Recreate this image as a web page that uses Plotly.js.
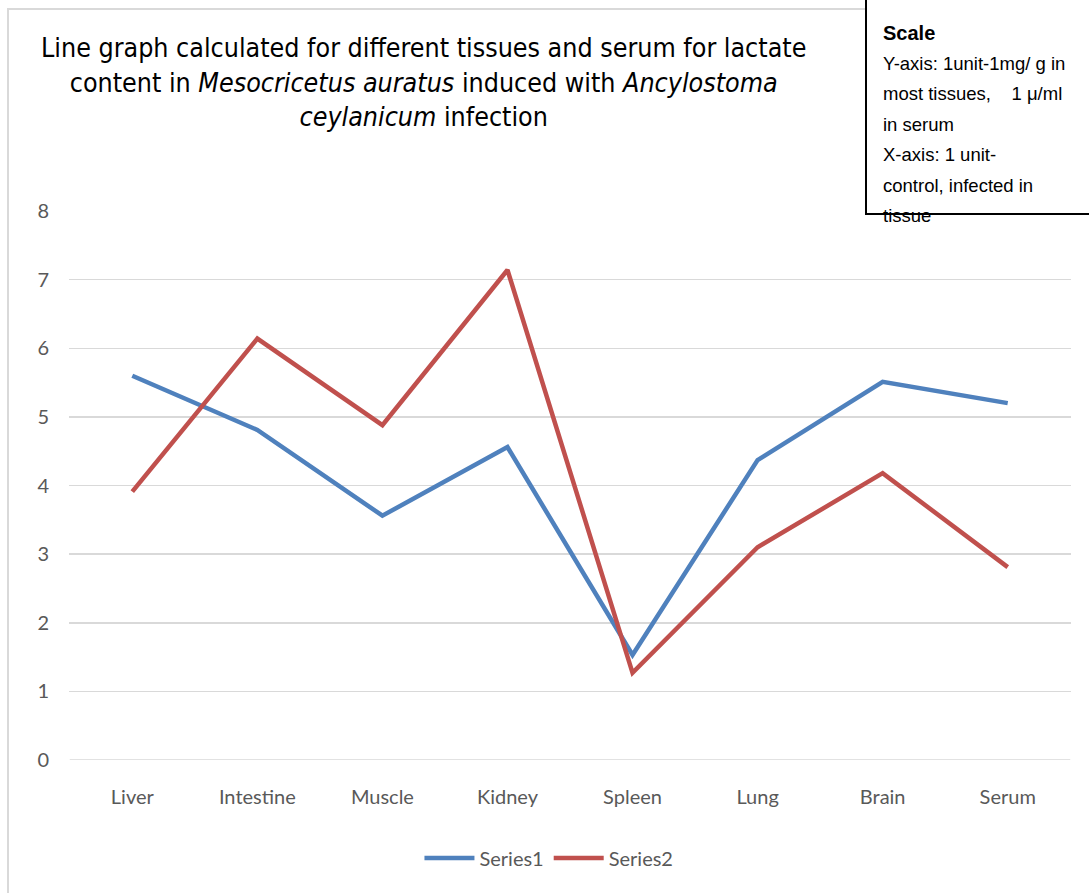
<!DOCTYPE html>
<html>
<head>
<meta charset="utf-8">
<script src="https://cdn.plot.ly/plotly-3.0.1.min.js"></script>
<style>html,body{margin:0;padding:0;background:#fff;}#chart{width:1089px;height:893px;}</style>
</head>
<body>
<div id="chart"></div>
<script>
const categories = ["Liver", "Intestine", "Muscle", "Kidney", "Spleen", "Lung", "Brain", "Serum"];
const series1 = [5.60, 4.81, 3.56, 4.56, 1.53, 4.37, 5.51, 5.20];
const series2 = [3.91, 6.14, 4.88, 7.14, 1.27, 3.10, 4.18, 2.81];
const seriesNames = ["Series1", "Series2"];
const yTicks = [0, 1, 2, 3, 4, 5, 6, 7, 8];
const scaleLines = ["<b>Scale</b>", "Y-axis: 1unit-1mg/ g in", "most tissues,    1 μ/ml", "in serum",
                    "X-axis: 1 unit-", "control, infected in", "tissue"];

const tickFont = {family: "Lato, 'Liberation Sans', sans-serif", size: 20, color: "#595959"};

const traces = [
  {x: categories, y: series1, name: seriesNames[0], type: "scatter", mode: "lines",
   line: {color: "#4F81BD", width: 4.5}},
  {x: categories, y: series2, name: seriesNames[1], type: "scatter", mode: "lines",
   line: {color: "#C0504D", width: 4.5}}
];

// plot area: 69..1071 px horizontally, 211..760 px vertically
const pxToPaperY = py => (760 - py) / 549;
const pxToPaperX = px => (px - 69) / 1002;

const scaleAnnotations = scaleLines.map((t, i) => ({
  xref: "paper", yref: "paper", x: pxToPaperX(881), y: pxToPaperY(33 + i * 30.4),
  xanchor: "left", yanchor: "middle", showarrow: false, align: "left", text: t,
  font: {family: "'Liberation Sans Narrow', 'Liberation Sans', sans-serif", size: i === 0 ? 20 : 18.5, color: "#000"}
}));

const layout = {
  width: 1089, height: 893,
  margin: {l: 69, r: 18, t: 211, b: 133},
  paper_bgcolor: "#fff", plot_bgcolor: "#fff",
  showlegend: true,
  legend: {orientation: "h", x: 0.479, xanchor: "center", y: pxToPaperY(858), yanchor: "middle",
           font: {family: "Lato, 'Liberation Sans', sans-serif", size: 20, color: "#595959"},
           itemwidth: 50, tracegroupgap: 0},
  xaxis: {type: "category", tickfont: tickFont, showgrid: false, zeroline: false,
          showline: false, ticks: "", ticklabelstandoff: 23, fixedrange: true},
  yaxis: {range: [0, 8], tickvals: yTicks, tickfont: tickFont, showgrid: true,
          gridcolor: "#D9D9D9", gridwidth: 1.5, zeroline: false, showline: false, ticks: "",
          ticklabelstandoff: 19, fixedrange: true},
  shapes: [
    {type: "line", xref: "x", yref: "y", x0: -0.5, x1: 7.5, y0: 0, y1: 0,
     line: {color: "#D9D9D9", width: 1.5}, layer: "below"},
    {type: "rect", xref: "paper", yref: "paper", x0: pxToPaperX(8), x1: 1.2, y0: -0.3, y1: pxToPaperY(9),
     line: {color: "#D9D9D9", width: 2}, fillcolor: "rgba(0,0,0,0)", layer: "below"},
    {type: "rect", xref: "paper", yref: "paper", x0: pxToPaperX(866), x1: 1.03, y0: pxToPaperY(214), y1: 1.40,
     line: {color: "#000", width: 2}, fillcolor: "#fff", layer: "above"}
  ],
  annotations: [
    {xref: "paper", yref: "paper", x: pxToPaperX(423), y: pxToPaperY(30), xanchor: "center", yanchor: "top",
     showarrow: false, align: "center",
     text: "Line graph calculated for different tissues and serum for lactate<br>content in <i>Mesocricetus auratus</i> induced with <i>Ancylostoma</i><br><i>ceylanicum</i> infection",
     font: {family: "'Liberation Sans Narrow', 'DejaVu Sans Condensed', sans-serif", size: 26.6, color: "#000"}}
  ].concat(scaleAnnotations)
};

Plotly.newPlot("chart", traces, layout, {displayModeBar: false, staticPlot: true});
</script>
</body>
</html>
